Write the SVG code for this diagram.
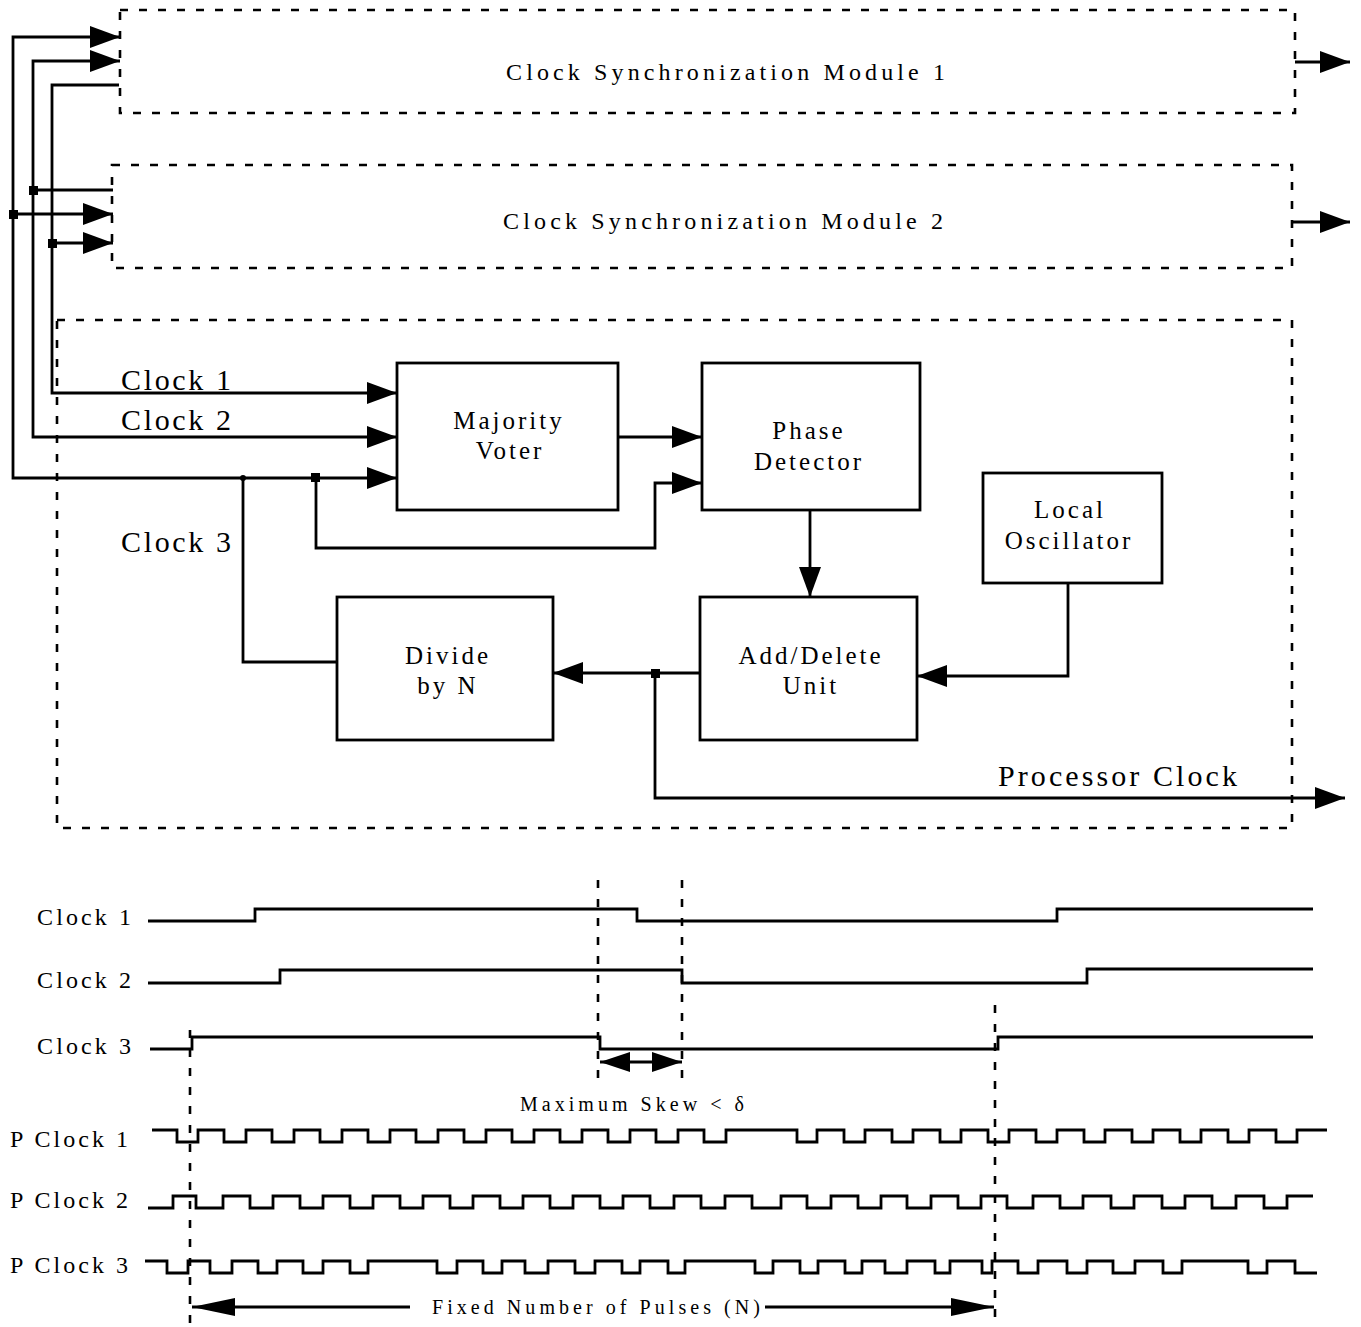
<svg xmlns="http://www.w3.org/2000/svg" width="1361" height="1327" viewBox="0 0 1361 1327">
<style>
.dash{fill:none;stroke:#000;stroke-width:2.6;stroke-dasharray:8 11}
.ln{fill:none;stroke:#000;stroke-width:2.8}
.box{fill:#fff;stroke:#000;stroke-width:2.8}
.wave{fill:none;stroke:#000;stroke-width:2.8;stroke-linejoin:miter}
.t{font-family:"Liberation Serif","DejaVu Serif",serif;fill:#000}
.bx{font-size:25px;letter-spacing:3px}
.md{font-size:24px}
.lb{font-size:30px}
.wl{font-size:24px}
.sm{font-size:20px}
</style>
<defs>
<marker id="ar" markerUnits="userSpaceOnUse" markerWidth="30" markerHeight="22" refX="30" refY="11" orient="auto-start-reverse"><path d="M0,0 L30,11 L0,22 z" fill="#000"/></marker>
<marker id="ars" markerUnits="userSpaceOnUse" markerWidth="30" markerHeight="20" refX="30" refY="10" orient="auto-start-reverse"><path d="M0,0 L30,10 L0,20 z" fill="#000"/></marker>
<marker id="arl" markerUnits="userSpaceOnUse" markerWidth="43" markerHeight="18" refX="43" refY="9" orient="auto-start-reverse"><path d="M0,0 L43,9 L0,18 z" fill="#000"/></marker>
</defs>

<g id="module1">
<rect class="dash" x="120" y="10" width="1175" height="103"/>
<text class="t md" x="506" y="80" textLength="439" lengthAdjust="spacing">Clock Synchronization Module 1</text>
</g>
<g id="module2">
<rect class="dash" x="112" y="165" width="1180" height="103"/>
<text class="t md" x="503" y="229" textLength="440" lengthAdjust="spacing">Clock Synchronization Module 2</text>
</g>
<g id="processor-clock">
<rect class="dash" x="57" y="320" width="1235" height="508"/>
<text class="t lb" x="998" y="786" textLength="239" lengthAdjust="spacing">Processor Clock</text>
</g>
<g id="majority-voter">
<rect class="box" x="397" y="363" width="221" height="147"/>
<text class="t bx" x="509" y="429" text-anchor="middle">Majority</text>
<text class="t bx" x="510" y="459" text-anchor="middle">Voter</text>
</g>
<g id="phase-detector">
<rect class="box" x="702" y="363" width="218" height="147"/>
<text class="t bx" x="809" y="439" text-anchor="middle">Phase</text>
<text class="t bx" x="809" y="470" text-anchor="middle">Detector</text>
</g>
<g id="local-oscillator">
<rect class="box" x="983" y="473" width="179" height="110"/>
<text class="t bx" x="1070" y="518" text-anchor="middle">Local</text>
<text class="t bx" x="1069" y="549" text-anchor="middle">Oscillator</text>
</g>
<g id="add-delete-unit">
<rect class="box" x="700" y="597" width="217" height="143"/>
<text class="t bx" x="811" y="664" text-anchor="middle">Add/Delete</text>
<text class="t bx" x="811" y="694" text-anchor="middle">Unit</text>
</g>
<g id="divide-by-n">
<rect class="box" x="337" y="597" width="216" height="143"/>
<text class="t bx" x="448" y="664" text-anchor="middle">Divide</text>
<text class="t bx" x="448" y="694" text-anchor="middle">by N</text>
</g>

<g id="connectors">
<path class="ln" d="M1295,62 H1350" marker-end="url(#ar)"/>
<path class="ln" d="M1293,222 H1350" marker-end="url(#ar)"/>
<path class="ln" d="M120,37 H13 V478 H397" marker-start="url(#ar)" marker-end="url(#ar)"/>
<path class="ln" d="M13,214 H113" marker-end="url(#ar)"/>
<path class="ln" d="M120,61 H33 V437 H397" marker-start="url(#ar)" marker-end="url(#ar)"/>
<path class="ln" d="M33,190 H113"/>
<path class="ln" d="M119,85 H52 V393 H397" marker-end="url(#ar)"/>
<path class="ln" d="M52,243 H113" marker-end="url(#ar)"/>
<rect x="9" y="210" width="9" height="9" fill="#000"/>
<rect x="29" y="186" width="9" height="9" fill="#000"/>
<rect x="48" y="239" width="9" height="9" fill="#000"/>
<path class="ln" d="M618,437 H702" marker-end="url(#ar)"/>
<path class="ln" d="M316,478 V548 H655 V483 H702" marker-end="url(#ar)"/>
<rect x="311" y="473" width="9" height="9" fill="#000"/>
<path class="ln" d="M810,510 V597" marker-end="url(#ar)"/>
<path class="ln" d="M1068,583 V676 H917" marker-end="url(#ar)"/>
<path class="ln" d="M700,673 H553" marker-end="url(#ar)"/>
<rect x="651" y="669" width="9" height="9" fill="#000"/>
<path class="ln" d="M655,673 V798 H1345" marker-end="url(#ar)"/>
<path class="ln" d="M337,662 H243 V478"/>
<circle cx="243" cy="478" r="3" fill="#000"/>
</g>

<g id="bus-labels">
<text class="t lb" x="121" y="390" textLength="110" lengthAdjust="spacing">Clock 1</text>
<text class="t lb" x="121" y="430" textLength="110" lengthAdjust="spacing">Clock 2</text>
<text class="t lb" x="121" y="552" textLength="110" lengthAdjust="spacing">Clock 3</text>
</g>

<g id="timing">
<text class="t wl" x="37" y="925" textLength="94" lengthAdjust="spacing">Clock 1</text>
<text class="t wl" x="37" y="988" textLength="94" lengthAdjust="spacing">Clock 2</text>
<text class="t wl" x="37" y="1054" textLength="94" lengthAdjust="spacing">Clock 3</text>
<text class="t wl" x="10" y="1147" textLength="118" lengthAdjust="spacing">P Clock 1</text>
<text class="t wl" x="10" y="1208" textLength="118" lengthAdjust="spacing">P Clock 2</text>
<text class="t wl" x="10" y="1273" textLength="118" lengthAdjust="spacing">P Clock 3</text>

<path class="wave" d="M148,921 H255 V909 H637 V921 H1057 V909 H1313"/>
<path class="wave" d="M148,983 H280 V970 H682 V983 H1087 V969 H1313"/>
<path class="wave" d="M150,1049 H192 V1037 H600 V1049 H998 V1037 H1313"/>

<path class="wave" d="M152,1130 H177 V1142 H198 V1130 H224 V1142 H246 V1130 H272 V1142 H294 V1130 H320 V1142 H342 V1130 H368 V1142 H390 V1130 H416 V1142 H438 V1130 H464 V1142 H486 V1130 H512 V1142 H534 V1130 H560 V1142 H582 V1130 H608 V1142 H630 V1130 H656 V1142 H678 V1130 H704 V1142 H726 V1130 H797 V1142 H817 V1130 H844 V1142 H865 V1130 H892 V1142 H913 V1130 H940 V1142 H961 V1130 H988 V1142 H1009 V1130 H1036 V1142 H1057 V1130 H1084 V1142 H1105 V1130 H1132 V1142 H1153 V1130 H1180 V1142 H1201 V1130 H1228 V1142 H1249 V1130 H1276 V1142 H1297 V1130 H1327"/>
<path class="wave" d="M148,1208 H173 V1196 H196 V1208 H223 V1196 H250 V1208 H273 V1196 H300 V1208 H323 V1196 H350 V1208 H373 V1196 H400 V1208 H423 V1196 H450 V1208 H473 V1196 H500 V1208 H523 V1196 H550 V1208 H573 V1196 H600 V1208 H623 V1196 H650 V1208 H674 V1196 H701 V1208 H725 V1196 H752 V1208 H781 V1196 H807 V1208 H831 V1196 H858 V1208 H881 V1196 H907 V1208 H931 V1196 H958 V1208 H981 V1196 H1007 V1208 H1033 V1196 H1060 V1208 H1083 V1196 H1111 V1208 H1134 V1196 H1162 V1208 H1185 V1196 H1212 V1208 H1236 V1196 H1264 V1208 H1287 V1196 H1313"/>
<path class="wave" d="M145,1261 H167 V1273 H188 V1261 H210 V1273 H232 V1261 H258 V1273 H277 V1261 H303 V1273 H323 V1261 H350 V1273 H368 V1261 H437 V1273 H457 V1261 H483 V1273 H502 V1261 H525 V1273 H548 V1261 H575 V1273 H595 V1261 H622 V1273 H640 V1261 H668 V1273 H685 V1261 H755 V1273 H773 V1261 H800 V1273 H818 V1261 H845 V1273 H862 V1261 H885 V1273 H907 V1261 H935 V1273 H950 V1261 H982 V1273 H992 V1261 H1018 V1273 H1038 V1261 H1067 V1273 H1087 V1261 H1113 V1273 H1135 V1261 H1163 V1273 H1182 V1261 H1248 V1273 H1267 V1261 H1295 V1273 H1317"/>

<path class="dash" d="M598,880 V1080"/>
<path class="dash" d="M682,880 V1080"/>
<path class="dash" d="M190,1030 V1327"/>
<path class="dash" d="M995,1005 V1327"/>

<path class="ln" d="M600,1062 H682" marker-start="url(#ars)" marker-end="url(#ars)"/>
<text class="t sm" x="520" y="1111" textLength="224" lengthAdjust="spacing">Maximum Skew  &lt; δ</text>

<path class="ln" d="M192,1307 H410" marker-start="url(#arl)"/>
<path class="ln" d="M765,1307 H994" marker-end="url(#arl)"/>
<text class="t sm" x="432" y="1314" textLength="328" lengthAdjust="spacing">Fixed Number of Pulses (N)</text>
</g>
</svg>
